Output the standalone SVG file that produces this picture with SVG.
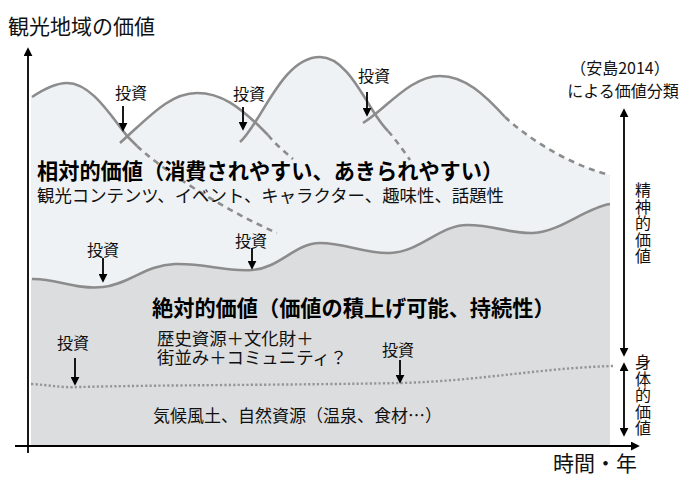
<svg xmlns="http://www.w3.org/2000/svg" width="679" height="477" viewBox="0 0 679 477">
<defs>
<style>
text{font-family:"Noto Sans CJK JP","Noto Sans CJK SC",sans-serif;fill:#111}
.t16{font-size:16px}
.t17{font-size:17.4px}
.bold{font-size:21.2px;font-weight:bold;fill:#000}
.vert{font-size:16px;writing-mode:vertical-rl;letter-spacing:0.6px}
.light{fill:#eff2f4;stroke:none}
.dark{fill:#dcdddf;stroke:none}
.wave{fill:none;stroke:#8c8c8c;stroke-width:2.6}
.dash{fill:none;stroke:#8c8c8c;stroke-width:2.6;stroke-dasharray:6 5}
.dot{fill:none;stroke:#959595;stroke-width:2.4;stroke-dasharray:2.2 2.2}
.arr{stroke:#000;stroke-width:1.8;fill:none;marker-end:url(#ah)}
.axis{stroke:#000;stroke-width:1.8;fill:none}
</style>
<marker id="ah" viewBox="0 0 10 10" refX="8" refY="5" markerWidth="9" markerHeight="9" markerUnits="userSpaceOnUse" orient="auto-start-reverse">
<path d="M0,0 L10,5 L0,10 z" fill="#000"/>
</marker>
</defs>

<g id="areas">
<path class="light" d="M31,446 L31,97 L32,97 C47,87 57,83 67,83 C92,83 112,118 128,137 C131,140 134,143 137,146 C160,168 220,208 277,233 L277,446 Z"/>
<path class="light" d="M120,446 L120,143 C150,116 170,93 197,93 C222,93 240,108 258,125 C262,129 265,132 268,135 C276,145 285,152 293,159 L293,446 Z"/>
<path class="light" d="M240,446 L240,142 C262,122 282,57 320,57 C345,57 362,95 377,117 C381,123 384,127 388,131 C396,140 403,150 410,160 L410,446 Z"/>
<path class="light" d="M363,446 L363,123 C385,110 410,76 440,76 C465,76 485,95 505,117 C530,140 570,165 610,175 L610,446 Z"/>
<path class="dark" d="M31,279 C55,278 75,290 103,287 C130,284 145,265 175,264 C205,263 225,272 252,270 C280,268 295,243 320,243 C345,243 365,254 390,253 C420,252 440,225 467,225 C495,225 510,234 533,233 C560,232 585,208 610,204 L610,446 L31,446 Z"/>
</g>

<g id="connectors">
<path class="wave" d="M32,97 C47,87 57,83 67,83 C92,83 112,118 128,137 C131,140 134,143 137,146"/>
<path class="dash" d="M137,146 C160,168 220,208 277,233"/>
<path class="wave" d="M120,143 C150,116 170,93 197,93 C222,93 240,108 258,125 C262,129 265,132 268,135"/>
<path class="dash" d="M268,135 C276,145 285,152 293,159"/>
<path class="wave" d="M240,142 C262,122 282,57 320,57 C345,57 362,95 377,117 C381,123 384,127 388,131"/>
<path class="dash" d="M388,131 C396,140 403,150 410,160"/>
<path class="wave" d="M363,123 C385,110 410,76 440,76 C465,76 485,95 505,117"/>
<path class="dash" d="M505,117 C530,140 570,165 610,175"/>
<path class="wave" d="M32,279 C55,278 75,290 103,287 C130,284 145,265 175,264 C205,263 225,272 252,270 C280,268 295,243 320,243 C345,243 365,254 390,253 C420,252 440,225 467,225 C495,225 510,234 533,233 C560,232 585,208 610,204"/>
<path class="dot" d="M31,384 C50,385 60,388 80,387 C150,385 300,385 400,383 C480,381 540,368 613,366"/>
<line class="arr" x1="123" y1="106" x2="123" y2="130"/>
<line class="arr" x1="243" y1="107" x2="243" y2="129"/>
<line class="arr" x1="367" y1="92" x2="367" y2="115"/>
<line class="arr" x1="103" y1="258" x2="103" y2="281"/>
<line class="arr" x1="252" y1="248" x2="252" y2="268"/>
<line class="arr" x1="75" y1="358" x2="75" y2="384"/>
<line class="arr" x1="400" y1="360" x2="400" y2="382"/>
<line class="axis" x1="28" y1="453" x2="28" y2="49" marker-end="url(#ah)"/>
<line class="axis" x1="15" y1="446" x2="638" y2="446" marker-end="url(#ah)"/>
<line class="axis" x1="624" y1="110" x2="624" y2="355" marker-start="url(#ah)" marker-end="url(#ah)"/>
<line class="axis" x1="624" y1="364" x2="624" y2="435" marker-start="url(#ah)" marker-end="url(#ah)"/>
</g>

<g id="axis-labels">
<text x="8" y="34" style="font-size:21px">観光地域の価値</text>
<text x="553" y="471" style="font-size:21px">時間・年</text>
</g>

<g id="classification">
<text class="t16" x="620" y="74" text-anchor="middle">（安島2014）</text>
<text class="t16" x="623" y="97" text-anchor="middle">による価値分類</text>
</g>

<g id="spiritual-label">
<text class="vert" x="643" y="182">精神的価値</text>
</g>

<g id="physical-label">
<text class="vert" x="643" y="354">身体的価値</text>
</g>

<g id="relative-value">
<text class="bold" x="37" y="178.5">相対的価値（消費されやすい、あきられやすい）</text>
<text class="t17" x="37" y="202">観光コンテンツ、イベント、キャラクター、趣味性、話題性</text>
</g>

<g id="absolute-value">
<text class="bold" x="152" y="316">絶対的価値（価値の積上げ可能、持続性）</text>
<text class="t17"><tspan x="157" y="344.5">歴史資源＋文化財＋</tspan><tspan x="157" y="364">街並み＋コミュニティ？</tspan></text>
</g>

<g id="physical-value">
<text x="153" y="422" style="font-size:17px">気候風土、自然資源（温泉、食材…）</text>
</g>

<g id="investments">
<text class="t16" x="115" y="99">投資</text>
<text class="t16" x="233" y="100">投資</text>
<text class="t16" x="358" y="82">投資</text>
<text class="t16" x="87" y="256">投資</text>
<text class="t16" x="235" y="247">投資</text>
<text class="t16" x="57" y="349">投資</text>
<text class="t16" x="382" y="356">投資</text>
</g>
</svg>
